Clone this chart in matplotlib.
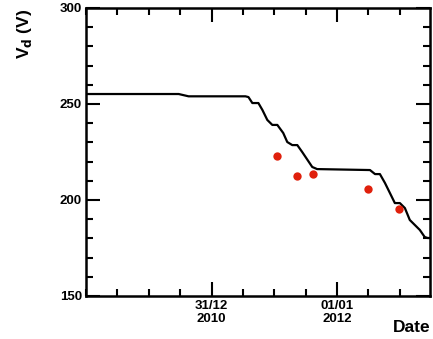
import matplotlib
matplotlib.use("Agg")
import matplotlib.pyplot as plt
from matplotlib.ticker import MultipleLocator, FixedLocator

plt.rcParams['font.family'] = ['Liberation Sans', 'DejaVu Sans']

# Line: decimal year vs Vd
line_x = [2010.0, 2010.738, 2010.817, 2011.270, 2011.294, 2011.325, 2011.373, 2011.405,
          2011.444, 2011.484, 2011.524, 2011.571, 2011.603, 2011.643, 2011.683, 2011.722,
          2011.802, 2011.841, 2012.262, 2012.302, 2012.341, 2012.381, 2012.421, 2012.460,
          2012.500, 2012.540, 2012.579, 2012.619, 2012.659, 2012.698, 2012.722, 2012.738]
line_y = [255.2, 255.2, 254.0, 254.0, 253.6, 250.5, 250.5, 246.9,
          241.7, 239.1, 239.1, 234.9, 230.2, 228.6, 228.6, 225.0,
          217.2, 216.1, 215.6, 213.5, 213.5, 208.9, 203.6, 198.4,
          198.4, 195.8, 189.6, 187.0, 184.4, 180.7, 180.2, 180.2]

# Measured points
pts_x = [2011.52, 2011.68, 2011.81, 2012.25, 2012.49]
pts_y = [222.9, 212.5, 213.5, 205.7, 195.3]

xticks = [2011.0, 2012.0]
xticklabels = ["31/12\n2010", "01/01\n2012"]

fig = plt.figure(figsize=(4.33, 3.39), dpi=100)
ax = fig.add_axes([86/433, 43/339, 344/433, 288/339])

ax.plot(line_x, line_y, color='black', lw=1.6, zorder=2, solid_joinstyle='round')
ax.plot(pts_x, pts_y, 'o', color='#e0200c', ms=6, mec='none', zorder=3)

ax.set_xlim(2010.0, 2012.74)
ax.set_ylim(150, 300)

ax.xaxis.set_major_locator(FixedLocator(xticks))
ax.set_xticklabels(xticklabels, fontsize=9.5, fontweight='bold', linespacing=1.05)
ax.xaxis.set_minor_locator(MultipleLocator(0.25))
ax.yaxis.set_major_locator(MultipleLocator(50))
ax.yaxis.set_minor_locator(MultipleLocator(10))
for lab in ax.get_yticklabels():
    lab.set_fontweight('bold')
    lab.set_fontsize(9.5)

ax.tick_params(which='both', direction='in', top=True, right=True, width=1.5)
ax.tick_params(which='major', length=10, pad=3)
ax.tick_params(which='minor', length=5)
ax.tick_params(axis='x', which='major', pad=3)
for s in ax.spines.values():
    s.set_linewidth(1.8)

fig.text(24/433, 1 - 9/339, r"V$_\mathbf{d}$ (V)", rotation=90, ha='center', va='top',
         fontsize=12.5, fontweight='bold')
fig.text(431/433, 1 - 335/339, "Date", ha='right', va='bottom', fontsize=12.5, fontweight='bold')

fig.savefig("out.png", dpi=100)
